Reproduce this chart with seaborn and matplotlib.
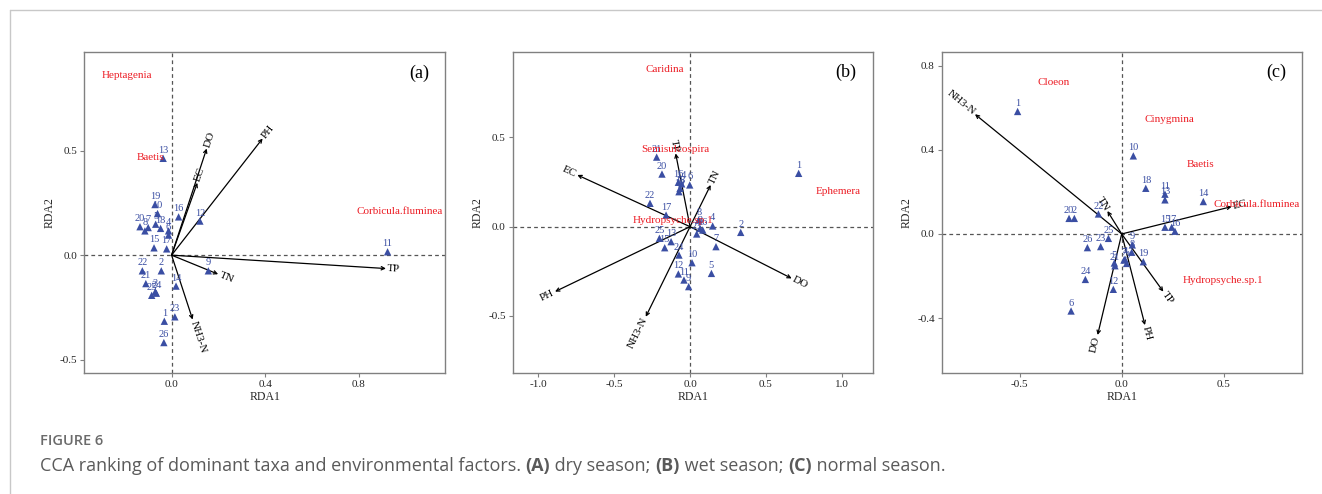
import numpy as np
import pandas as pd
import matplotlib
matplotlib.use("Agg")
import matplotlib.pyplot as plt
from matplotlib.lines import Line2D
import seaborn as sns

# ---- data ----
site_ids = [str(i) for i in range(1, 27)]

# (a) dry season
sites_a_x = [-0.031, -0.044, -0.070, -0.013, -0.068, -0.013, -0.100, -0.114, 0.157, -0.060,
             0.923, 0.121, -0.036, 0.019, -0.075, 0.030, -0.021, -0.047, -0.071, -0.135,
             -0.110, -0.125, 0.014, -0.065, -0.085, -0.033]
sites_a_y = [-0.316, -0.075, -0.175, 0.116, 0.148, 0.096, 0.132, 0.116, -0.075, 0.199,
             0.016, 0.163, 0.463, -0.148, 0.035, 0.183, 0.030, 0.128, 0.242, 0.136,
             -0.136, -0.075, -0.295, -0.182, -0.192, -0.418]
env_a = ["DO", "EC", "PH", "TP", "TN", "NH3-N"]
env_a_x = [0.150, 0.110, 0.389, 0.916, 0.199, 0.090]
env_a_y = [0.510, 0.346, 0.558, -0.064, -0.091, -0.308]
taxa_a = ["Heptagenia", "Baetis", "Corbicula.fluminea"]
taxa_a_x = [-0.192, -0.090, 0.976]
taxa_a_y = [0.861, 0.467, 0.211]

# (b) wet season
sites_b_x = [0.716, 0.334, 0.066, 0.149, 0.141, -0.002, 0.171, 0.057, -0.009, 0.013,
             -0.040, -0.077, -0.125, -0.055, -0.167, -0.077, -0.158, -0.066, -0.073, -0.185,
             -0.220, -0.264, 0.044, -0.073, -0.202, 0.084]
sites_b_y = [0.299, -0.032, -0.010, 0.004, -0.262, 0.234, -0.112, 0.037, -0.336, -0.202,
             -0.299, -0.265, -0.084, 0.240, -0.118, 0.249, 0.065, 0.215, 0.196, 0.295,
             0.390, 0.131, -0.041, -0.159, -0.065, -0.019]
env_b = ["TP", "EC", "TN", "DO", "PH", "NH3-N"]
env_b_x = [-0.095, -0.743, 0.136, 0.670, -0.890, -0.292]
env_b_y = [0.411, 0.290, 0.234, -0.290, -0.364, -0.505]
taxa_b = ["Caridina", "Semisulcospira", "Ephemera", "Hydropsyche.sp.1"]
taxa_b_x = [-0.167, -0.099, 0.976, -0.110]
taxa_b_y = [0.879, 0.434, 0.196, 0.032]

# (c) normal season
sites_c_x = [-0.510, -0.232, 0.024, 0.016, -0.036, -0.248, 0.011, 0.049, 0.052, 0.057,
             0.212, -0.041, 0.212, 0.400, 0.212, 0.261, 0.245, 0.118, 0.106, -0.258,
             -0.033, -0.114, -0.103, -0.178, -0.065, -0.168]
sites_c_y = [0.582, 0.074, -0.140, -0.120, -0.138, -0.366, -0.124, -0.087, -0.052, 0.371,
             0.189, -0.263, 0.162, 0.154, 0.032, 0.013, 0.032, 0.217, -0.132, 0.074,
             -0.151, 0.095, -0.060, -0.216, -0.021, -0.065]
env_c = ["NH3-N", "TN", "TP", "EC", "DO", "PH"]
env_c_x = [-0.719, -0.070, 0.204, 0.539, -0.118, 0.114]
env_c_y = [0.569, 0.109, -0.274, 0.130, -0.480, -0.433]
taxa_c = ["Cloeon", "Cinygmina", "Baetis", "Corbicula.fluminea", "Hydropsyche.sp.1"]
taxa_c_x = [-0.332, 0.234, 0.384, 0.662, 0.498]
taxa_c_y = [0.721, 0.542, 0.331, 0.141, -0.222]

panels = [
    dict(tag="(a)", sx=sites_a_x, sy=sites_a_y, env=env_a, ex=env_a_x, ey=env_a_y,
         taxa=taxa_a, tx=taxa_a_x, ty=taxa_a_y, xlim=(-0.373, 1.168), ylim=(-0.565, 0.973),
         xticks=[0.0, 0.4, 0.8], yticks=[-0.5, 0.0, 0.5], tagpos=(1.057, 0.869), left=84.3),
    dict(tag="(b)", sx=sites_b_x, sy=sites_b_y, env=env_b, ex=env_b_x, ey=env_b_y,
         taxa=taxa_b, tx=taxa_b_x, ty=taxa_b_y, xlim=(-1.169, 1.208), ylim=(-0.822, 0.981),
         xticks=[-1.0, -0.5, 0.0, 0.5, 1.0], yticks=[-0.5, 0.0, 0.5], tagpos=(1.026, 0.864), left=512.7),
    dict(tag="(c)", sx=sites_c_x, sy=sites_c_y, env=env_c, ex=env_c_x, ey=env_c_y,
         taxa=taxa_c, tx=taxa_c_x, ty=taxa_c_y, xlim=(-0.882, 0.885), ylim=(-0.662, 0.866),
         xticks=[-0.5, 0.0, 0.5], yticks=[-0.4, 0.0, 0.4, 0.8], tagpos=(0.757, 0.767), left=941.7),
]

sns.set_theme(style="white")
plt.rcParams["font.family"] = ["Liberation Serif", "DejaVu Serif"]

W, H = 1322, 494
fig = plt.figure(figsize=(W / 100, H / 100), dpi=100)

blue = "#3a4ea3"
red = "#ec1c24"
grey = "#808080"

for p in panels:
    ax = fig.add_axes([p["left"] / W, 1 - 373.3 / H, 360.6 / W, 321.6 / H])
    df = pd.DataFrame({"x": p["sx"], "y": p["sy"], "site": site_ids})
    ax.axhline(0, color="#555555", ls=(0, (3, 2.5)), lw=0.9, zorder=1)
    ax.axvline(0, color="#555555", ls=(0, (3, 2.5)), lw=0.9, zorder=1)
    sns.scatterplot(data=df, x="x", y="y", marker="^", s=28, color=blue,
                    edgecolor="none", ax=ax, zorder=3, legend=False)
    for _, r in df.iterrows():
        ax.annotate(r["site"], (r["x"], r["y"]), xytext=(0, 2.5), textcoords="offset points",
                    ha="center", va="bottom", fontsize=7.5, color=blue, zorder=4)
    ax.set_xlim(*p["xlim"])
    ax.set_ylim(*p["ylim"])
    ax.set_xticks(p["xticks"])
    ax.set_yticks(p["yticks"])
    ax.set_xticklabels([f"{v:.1f}" for v in p["xticks"]])
    ax.set_yticklabels([f"{v:.1f}" for v in p["yticks"]])
    ax.tick_params(axis="both", length=3, width=0.8, color=grey, labelsize=8, pad=2,
                   bottom=True, left=True)
    for s in ax.spines.values():
        s.set_color(grey)
        s.set_linewidth(1.0)
    ax.set_xlabel("RDA1", fontsize=8.5, labelpad=1)
    ax.set_ylabel("RDA2", fontsize=8.5, labelpad=3)

    # environmental arrows
    o = ax.transData.transform((0, 0))
    for name, ex, ey in zip(p["env"], p["ex"], p["ey"]):
        ax.annotate("", xy=(ex, ey), xytext=(0, 0),
                    arrowprops=dict(arrowstyle="->", lw=0.9, color="black",
                                    shrinkA=0, shrinkB=0, mutation_scale=6), zorder=2)
        t = ax.transData.transform((ex, ey)) - o
        ang = np.degrees(np.arctan2(t[1], t[0]))
        ux, uy = t / np.hypot(*t)
        if ang > 90:
            ang -= 180
            ha = "right"
        elif ang < -90:
            ang += 180
            ha = "right"
        else:
            ha = "left"
        ax.annotate(name, (ex, ey), xytext=(ux * 1, uy * 1), textcoords="offset points",
                    rotation=ang, rotation_mode="anchor", ha=ha, va="center",
                    fontsize=8, color="black", zorder=4)

    for name, tx, ty in zip(p["taxa"], p["tx"], p["ty"]):
        ax.text(tx, ty, name, ha="center", va="center", fontsize=8, color=red, zorder=5)

    ax.text(p["tagpos"][0], p["tagpos"][1], p["tag"], ha="center", va="center",
            fontsize=13, color="black")

# outer frame lines
fig.add_artist(Line2D([10 / W, 1], [1 - 10 / H, 1 - 10 / H], color="#c8c8c8", lw=1,
                      transform=fig.transFigure))
fig.add_artist(Line2D([10 / W, 10 / W], [0, 1 - 10 / H], color="#c8c8c8", lw=1,
                      transform=fig.transFigure))

# caption
cap_font = ["Open Sans", "DejaVu Sans"]
fig.text(40 / W, 1 - 441 / H, "FIGURE 6", fontsize=10.5, color="#6b6b6b", fontweight="semibold",
         family=cap_font, ha="left", va="center")
pieces = [("CCA ranking of dominant taxa and environmental factors. ", "normal"),
          ("(A)", "bold"), (" dry season; ", "normal"), ("(B)", "bold"),
          (" wet season; ", "normal"), ("(C)", "bold"), (" normal season.", "normal")]
renderer = fig.canvas.get_renderer()
xpos = 40
for txt, wt in pieces:
    t = fig.text(xpos / W, 1 - 466 / H, txt, fontsize=13, color="#5a5a5a", fontweight=wt,
                 family=cap_font, ha="left", va="center")
    bb = t.get_window_extent(renderer=renderer)
    xpos += bb.width

fig.savefig("out.png", dpi=100)
